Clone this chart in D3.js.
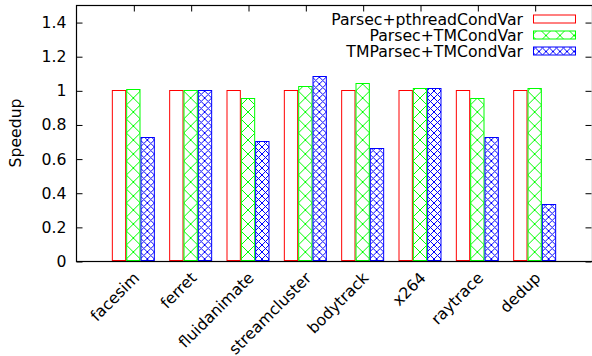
<!DOCTYPE html>
<html>
<head>
<meta charset="utf-8">
<script src="https://cdn.jsdelivr.net/npm/d3@7"></script>
<style>
  body { margin: 0; background: #fff; }
  svg text { font-family: 'DejaVu Sans', sans-serif; font-size: 15.7px; fill: #000; }
</style>
</head>
<body>
<svg id="chart" width="592" height="356"></svg>
<script>
'use strict'

// data
const benchmarks = ['facesim', 'ferret', 'fluidanimate', 'streamcluster', 'bodytrack', 'x264', 'raytrace', 'dedup']
const series = ['Parsec+pthreadCondVar', 'Parsec+TMCondVar', 'TMParsec+TMCondVar']
const pthreadCondVar = [1, 1, 1, 1, 1, 1, 1, 1]
const tmCondVar = [1.008, 1.0, 0.957, 1.027, 1.043, 1.013, 0.953, 1.013]
const tmParsecTmCondVar = [0.727, 1.0, 0.705, 1.085, 0.662, 1.015, 0.724, 0.336]
const yTicks = [0, 0.2, 0.4, 0.6, 0.8, 1, 1.2, 1.4]

const seriesValues = [pthreadCondVar, tmCondVar, tmParsecTmCondVar]
const data = benchmarks.map(function (b, i) {
  return { key: b, values: series.map(function (s, j) { return { series: s, value: seriesValues[j][i] } }) }
})

const margin = { left: 76, right: 592, top: 5, bottom: 261 }
const svg = d3.select('#chart')

const defs = svg.append('defs')
// wide crosshatch (green)
const p1 = defs.append('pattern')
  .attr('id', 'hatchGreen')
  .attr('patternUnits', 'userSpaceOnUse')
  .attr('width', 14).attr('height', 14)
p1.append('rect').attr('width', 14).attr('height', 14).attr('fill', '#fff')
p1.append('path')
  .attr('d', 'M0,0L14,14M0,14L14,0M-1,1L1,-1M13,15L15,13M-1,13L1,15M13,-1L15,1')
  .attr('stroke', '#00ff00').attr('stroke-width', 1).attr('fill', 'none')
// dense crosshatch (blue)
const p2 = defs.append('pattern')
  .attr('id', 'hatchBlue')
  .attr('patternUnits', 'userSpaceOnUse')
  .attr('width', 7).attr('height', 7)
p2.append('rect').attr('width', 7).attr('height', 7).attr('fill', '#fff')
p2.append('path')
  .attr('d', 'M0,0L7,7M0,7L7,0M-1,1L1,-1M6,8L8,6M-1,6L1,8M6,-1L8,1')
  .attr('stroke', '#0000ff').attr('stroke-width', 1).attr('fill', 'none')

const colors = ['#ff0000', '#00ff00', '#0000ff']
const fills = ['#ffffff', 'url(#hatchGreen)', 'url(#hatchBlue)']

const x = d3.scaleBand()
  .domain(benchmarks)
  .range([margin.left, margin.right])
  .paddingInner(0)
  .paddingOuter(0.5)
const xInner = d3.scaleBand()
  .domain(series)
  .range([-0.375 * x.step(), 0.375 * x.step()])
const y = d3.scaleLinear()
  .domain([0, 1.5])
  .range([margin.bottom, margin.top])

// bars
const groups = svg.append('g')
  .selectAll('g')
  .data(data)
  .join('g')
  .attr('transform', function (d) { return 'translate(' + (x(d.key) + x.bandwidth() / 2) + ',0)' })
groups.selectAll('rect')
  .data(function (d) { return d.values })
  .join('rect')
  .attr('x', function (d) { return xInner(d.series) + 0.5 })
  .attr('y', function (d) { return Math.round(y(d.value)) + 0.5 })
  .attr('width', xInner.bandwidth() - 1)
  .attr('height', function (d) { return Math.round(y(0)) - Math.round(y(d.value)) - 1 })
  .attr('fill', function (d) { return fills[series.indexOf(d.series)] })
  .attr('stroke', function (d) { return colors[series.indexOf(d.series)] })
  .attr('stroke-width', 1)

// axes
const fmt = d3.format('~g')
svg.append('g')
  .attr('class', 'y axis')
  .attr('transform', 'translate(' + (margin.left + 0.5) + ',0.5)')
  .call(d3.axisLeft(y).tickValues(yTicks).tickFormat(fmt).tickSize(-6).tickPadding(10))
svg.append('g')
  .attr('class', 'y2 axis')
  .attr('transform', 'translate(' + (margin.right - 0.5) + ',0.5)')
  .call(d3.axisRight(y).tickValues(yTicks).tickFormat('').tickSize(-6))
const xCenter = d3.scalePoint().domain(benchmarks).range([x(benchmarks[0]) + x.bandwidth() / 2, x(benchmarks[benchmarks.length - 1]) + x.bandwidth() / 2])
svg.append('g')
  .attr('class', 'x2 axis')
  .attr('transform', 'translate(0.5,' + (margin.top + 0.5) + ')')
  .call(d3.axisTop(xCenter).tickFormat('').tickSize(-6))
svg.selectAll('.axis .domain').remove()
svg.selectAll('.axis line').attr('stroke', '#000')
svg.selectAll('.axis text').style('font-size', '15.7px').style('font-family', "'DejaVu Sans', sans-serif").attr('fill', '#000')

svg.append('rect')
  .attr('x', margin.left + 0.5)
  .attr('y', margin.top + 0.5)
  .attr('width', margin.right - margin.left)
  .attr('height', margin.bottom - margin.top)
  .attr('fill', 'none')
  .attr('stroke', '#000')
  .attr('stroke-width', 1.2)

// x labels
svg.append('g')
  .selectAll('text')
  .data(benchmarks)
  .join('text')
  .attr('transform', function (d) { return 'translate(' + (xCenter(d) + 3) + ',' + (margin.bottom + 14) + ') rotate(-45)' })
  .attr('text-anchor', 'end')
  .attr('dy', '0.35em')
  .text(function (d) { return d })

// y label
svg.append('text')
  .attr('transform', 'translate(21,' + ((margin.top + margin.bottom) / 2) + ') rotate(-90)')
  .attr('text-anchor', 'middle')
  .text('Speedup')

// legend
const legend = svg.append('g')
  .selectAll('g')
  .data(series)
  .join('g')
  .attr('transform', function (d, i) { return 'translate(0,' + (19.5 + i * 16) + ')' })
legend.append('text')
  .attr('x', 523)
  .attr('dy', '0.35em')
  .attr('text-anchor', 'end')
  .text(function (d) { return d })
legend.append('rect')
  .attr('x', 533.5)
  .attr('y', -4.5)
  .attr('width', 42)
  .attr('height', 8)
  .attr('fill', function (d, i) { return fills[i] })
  .attr('stroke', function (d, i) { return colors[i] })
</script>
</body>
</html>
